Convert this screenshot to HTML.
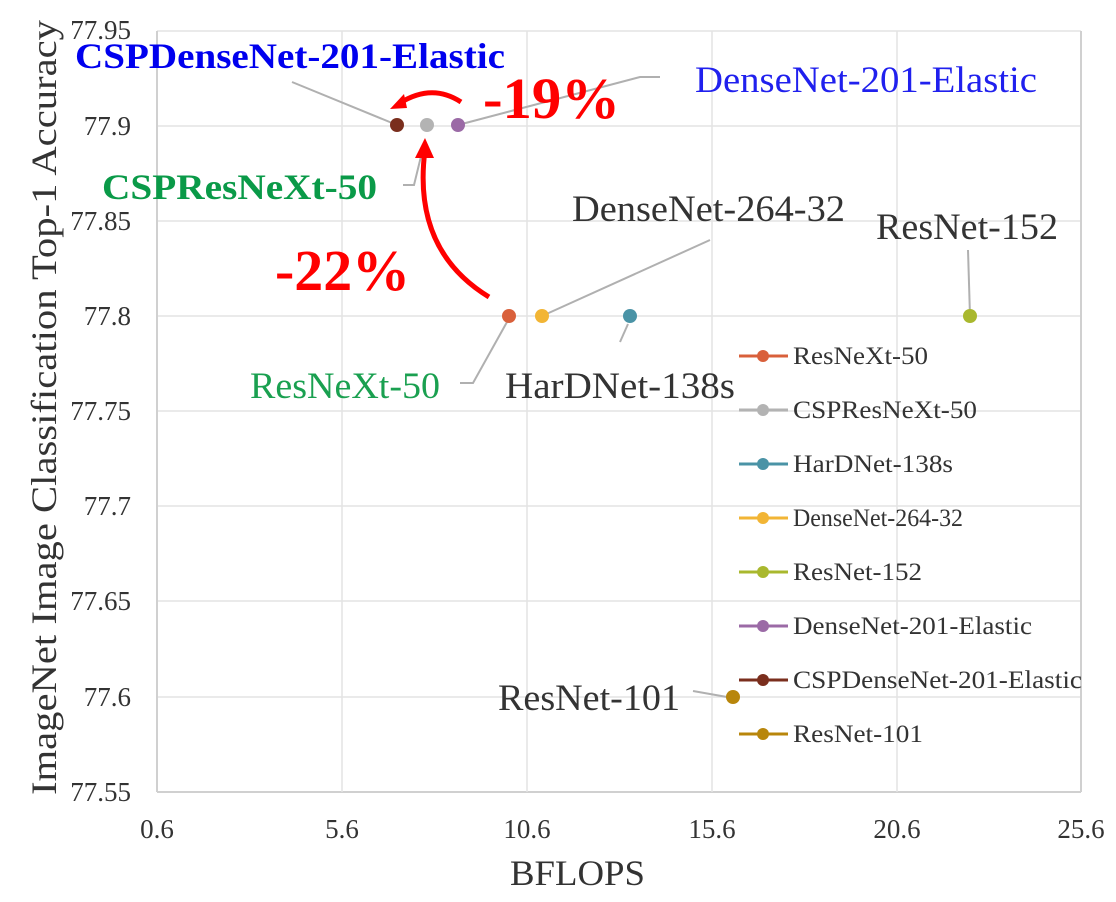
<!DOCTYPE html>
<html><head><meta charset="utf-8"><style>
html,body{margin:0;padding:0;background:#fff;}
svg{display:block;font-family:"Liberation Serif",serif;}
</style></head><body>
<svg width="1116" height="902" viewBox="0 0 1116 902">
<g stroke="#e3e3e3" stroke-width="1.5" fill="none">
<line x1="157" y1="31" x2="1081" y2="31"/>
<line x1="157" y1="126" x2="1081" y2="126"/>
<line x1="157" y1="221" x2="1081" y2="221"/>
<line x1="157" y1="316" x2="1081" y2="316"/>
<line x1="157" y1="411" x2="1081" y2="411"/>
<line x1="157" y1="506" x2="1081" y2="506"/>
<line x1="157" y1="601" x2="1081" y2="601"/>
<line x1="157" y1="697" x2="1081" y2="697"/>
<line x1="157" y1="792" x2="1081" y2="792" stroke="#d0d0d0" stroke-width="2"/>
<line x1="157" y1="31" x2="157" y2="792" stroke="#d0d0d0" stroke-width="2"/>
<line x1="342" y1="31" x2="342" y2="792"/>
<line x1="527" y1="31" x2="527" y2="792"/>
<line x1="712" y1="31" x2="712" y2="792"/>
<line x1="897" y1="31" x2="897" y2="792"/>
<line x1="1081" y1="31" x2="1081" y2="792" stroke="#d0d0d0" stroke-width="2"/>
</g>
<g font-size="27" fill="#333" text-anchor="end">
<text x="131" y="39">77.95</text><text x="131" y="135">77.9</text><text x="131" y="230">77.85</text>
<text x="131" y="325">77.8</text><text x="131" y="420">77.75</text><text x="131" y="515">77.7</text>
<text x="131" y="610">77.65</text><text x="131" y="706">77.6</text><text x="131" y="801">77.55</text>
</g>
<g font-size="27" fill="#333" text-anchor="middle">
<text x="157" y="838">0.6</text><text x="342" y="838">5.6</text><text x="527" y="838">10.6</text>
<text x="712" y="838">15.6</text><text x="897" y="838">20.6</text><text x="1081" y="838">25.6</text>
</g>
<text x="510" y="885" font-size="36" fill="#333" textLength="135" lengthAdjust="spacingAndGlyphs">BFLOPS</text>
<text transform="translate(56,795) rotate(-90)" font-size="36" fill="#333" textLength="775" lengthAdjust="spacingAndGlyphs">ImageNet Image Classification Top-1 Accuracy</text>
<g stroke="#b0b0b0" stroke-width="2" fill="none">
<polyline points="292,82 397,125"/>
<polyline points="458,125 640,77 660,77"/>
<polyline points="403,185 414,185 425,140"/>
<polyline points="542,316 710,240"/>
<polyline points="968,250 970,316"/>
<polyline points="620,342 628,324"/>
<polyline points="460,383 473,383 507,322"/>
<polyline points="693,691 727,697"/>
</g>
<g>
<circle cx="397" cy="125" r="7" fill="#7a2e1d"/>
<circle cx="427" cy="125" r="7" fill="#b3b3b3"/>
<circle cx="458" cy="125" r="7" fill="#9b6aa6"/>
<circle cx="509" cy="316" r="7" fill="#d9603b"/>
<circle cx="542" cy="316" r="7" fill="#f2b535"/>
<circle cx="630" cy="316" r="7" fill="#4a93a6"/>
<circle cx="970" cy="316" r="7" fill="#a9b82e"/>
<circle cx="733" cy="697" r="7" fill="#b8860b"/>
</g>
<g stroke="#ff0000" stroke-width="5" fill="none">
<path d="M461,102 Q432,83 400,103"/>
<path d="M489,297 Q412,250 425,150"/>
</g>
<polygon points="390,109 404,94 407,108" fill="#f00"/>
<polygon points="425,138 415,158 434,158" fill="#f00"/>
<text x="483" y="118" font-size="58" font-weight="bold" fill="#f00" textLength="137" lengthAdjust="spacingAndGlyphs">-19%</text>
<text x="275" y="290" font-size="58" font-weight="bold" fill="#f00" textLength="135" lengthAdjust="spacingAndGlyphs">-22%</text>
<text x="75" y="68" font-size="36" font-weight="bold" fill="#0000ee" textLength="430" lengthAdjust="spacingAndGlyphs">CSPDenseNet-201-Elastic</text>
<text x="695" y="92" font-size="37" fill="#2020ee" textLength="342" lengthAdjust="spacingAndGlyphs">DenseNet-201-Elastic</text>
<text x="102" y="199" font-size="36" font-weight="bold" fill="#0a9a48" textLength="275" lengthAdjust="spacingAndGlyphs">CSPResNeXt-50</text>
<text x="572" y="221" font-size="37" fill="#333" textLength="273" lengthAdjust="spacingAndGlyphs">DenseNet-264-32</text>
<text x="876" y="239" font-size="37" fill="#333" textLength="182" lengthAdjust="spacingAndGlyphs">ResNet-152</text>
<text x="505" y="398" font-size="37" fill="#333" textLength="230" lengthAdjust="spacingAndGlyphs">HarDNet-138s</text>
<text x="250" y="398" font-size="37" fill="#1aa050" textLength="190" lengthAdjust="spacingAndGlyphs">ResNeXt-50</text>
<text x="498" y="710" font-size="37" fill="#333" textLength="182" lengthAdjust="spacingAndGlyphs">ResNet-101</text>
<g font-size="25" fill="#333">
<g stroke-width="3">
<line x1="739" y1="356" x2="788" y2="356" stroke="#d9603b"/>
<line x1="739" y1="410" x2="788" y2="410" stroke="#b3b3b3"/>
<line x1="739" y1="464" x2="788" y2="464" stroke="#4a93a6"/>
<line x1="739" y1="518" x2="788" y2="518" stroke="#f2b535"/>
<line x1="739" y1="572" x2="788" y2="572" stroke="#a9b82e"/>
<line x1="739" y1="626" x2="788" y2="626" stroke="#9b6aa6"/>
<line x1="739" y1="680" x2="788" y2="680" stroke="#7a2e1d"/>
<line x1="739" y1="734" x2="788" y2="734" stroke="#b8860b"/>
</g>
<circle cx="763" cy="356" r="6" fill="#d9603b"/>
<circle cx="763" cy="410" r="6" fill="#b3b3b3"/>
<circle cx="763" cy="464" r="6" fill="#4a93a6"/>
<circle cx="763" cy="518" r="6" fill="#f2b535"/>
<circle cx="763" cy="572" r="6" fill="#a9b82e"/>
<circle cx="763" cy="626" r="6" fill="#9b6aa6"/>
<circle cx="763" cy="680" r="6" fill="#7a2e1d"/>
<circle cx="763" cy="734" r="6" fill="#b8860b"/>
<text x="793" y="364" textLength="135" lengthAdjust="spacingAndGlyphs">ResNeXt-50</text>
<text x="793" y="418" textLength="184" lengthAdjust="spacingAndGlyphs">CSPResNeXt-50</text>
<text x="793" y="472" textLength="160" lengthAdjust="spacingAndGlyphs">HarDNet-138s</text>
<text x="793" y="526" textLength="170" lengthAdjust="spacingAndGlyphs">DenseNet-264-32</text>
<text x="793" y="580" textLength="129" lengthAdjust="spacingAndGlyphs">ResNet-152</text>
<text x="793" y="634" textLength="239" lengthAdjust="spacingAndGlyphs">DenseNet-201-Elastic</text>
<text x="793" y="688" textLength="289" lengthAdjust="spacingAndGlyphs">CSPDenseNet-201-Elastic</text>
<text x="793" y="742" textLength="130" lengthAdjust="spacingAndGlyphs">ResNet-101</text>
</g>
</svg>
</body></html>
